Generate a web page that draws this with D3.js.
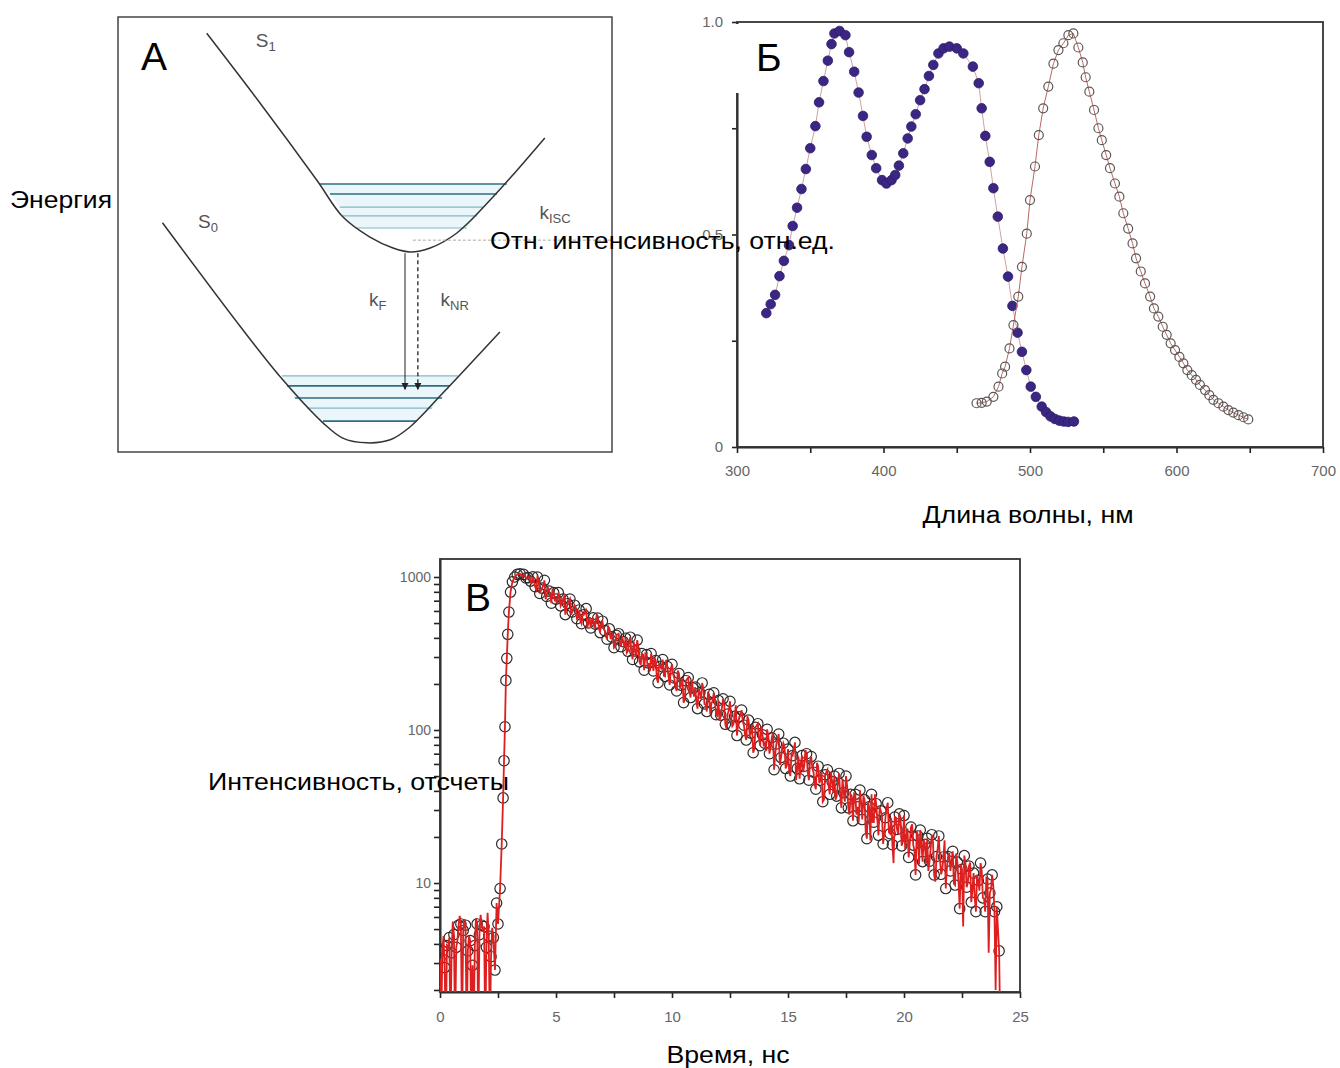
<!DOCTYPE html>
<html>
<head>
<meta charset="utf-8">
<script src="https://cdn.jsdelivr.net/npm/d3@7"></script>
<style>
  body { margin: 0; background: #fff; }
  svg { font-family: Arial, "Liberation Sans", sans-serif; }
  .tick text { fill: #666; }
  .axisLabel { font-size: 23px; fill: #000; }
  .panelLetter { font-size: 39px; fill: #000; }
  .diagLabel { font-size: 19px; fill: #555; }
</style>
</head>
<body>
<div id="chart"></div>
<script>
// ---------- panel А: schematic (diagram units 0..100) ----------
const s1Curve = [[17.96,3.75],[28.74,19.77],[40.22,37.47],[45.55,46.0],[51.0,50.6],[55.67,53.1],[59.1,54.0],[63.2,53.1],[68.6,49.65],[75.9,41.4],[86.4,27.8]]
const s0Curve = [[9.0,47.3],[25.3,71.95],[33.4,83.45],[41.5,93.3],[45.5,96.8],[50.4,97.9],[55.1,97.2],[59.1,94.25],[65.8,86.4],[77.3,72.4]]
// [y, xLeft, xRight]
const s1Levels = [[38.4,40.9,78.7],[40.7,42.9,76.7],[43.7,44.9,73.9],[45.7,45.5,72.7],[48.5,48.4,70.6]]
const s0Levels = [[82.5,33.2,68.8],[84.8,34.2,67.2],[87.6,35.8,65.6],[89.9,38.3,63.6],[92.9,41.5,60.5]]
const s1LevelDark = [true, true, false, false, false]
const s0LevelDark = [false, true, true, false, true]
// transitions: [x, yTop, yBottom]
const kF = [58.1, 54.3, 85.6]
const kNR = [60.7, 54.3, 85.6]
const kISC = [59.7, 100, 51.3]

// ---------- panel Б: spectra ----------
const absWl = [320,323,326,329,332,335.5,338,341,344,347,350,353.5,356,359,362,364.5,366.5,370,374,376.5,380,383,386,388.5,392,395,399,402,405.5,408,410.5,413.5,416.5,419,422,425,428,431,434,437.5,441,445,450,454.5,461,465,467,469.5,472.5,475,478,481.5,485,488,491.5,494.5,497.5,500.5,504,508,511,514,517,520,523,526,530]
const absVal = [0.315,0.336,0.358,0.402,0.438,0.475,0.52,0.563,0.607,0.654,0.703,0.755,0.811,0.861,0.909,0.948,0.973,0.979,0.969,0.929,0.883,0.834,0.779,0.730,0.687,0.656,0.628,0.620,0.628,0.64,0.662,0.691,0.726,0.754,0.783,0.816,0.842,0.873,0.899,0.926,0.938,0.942,0.938,0.926,0.895,0.856,0.797,0.732,0.671,0.609,0.542,0.467,0.401,0.332,0.269,0.224,0.181,0.142,0.118,0.095,0.082,0.072,0.066,0.062,0.060,0.059,0.060]
const emWl = [463.5,467,470.5,475,478.5,481,483,486,488.7,492,494.5,497.8,500,503.4,506,509,512.5,516,519.4,522.8,526.2,529.6,533,536,538,540.5,543.7,546.7,549,552,554.6,558,561,563.7,567,570,572.4,575.6,578.5,582,584.6,587.6,590.6,593.3,596,599,602,604.7,607.4,610.4,613.3,616,619.5,622.4,625.2,628.6,632,635.4,638.8,642.3,645.7,649]
const emVal = [0.103,0.104,0.107,0.118,0.142,0.173,0.189,0.232,0.287,0.354,0.424,0.502,0.581,0.660,0.734,0.797,0.848,0.902,0.934,0.950,0.969,0.973,0.94,0.905,0.87,0.836,0.793,0.75,0.722,0.687,0.656,0.62,0.589,0.55,0.514,0.479,0.444,0.413,0.385,0.354,0.326,0.307,0.283,0.264,0.244,0.228,0.212,0.197,0.181,0.169,0.158,0.146,0.134,0.122,0.111,0.103,0.095,0.087,0.081,0.075,0.07,0.065]
const bTicksX = [300,350,400,450,500,550,600,650,700]
const bTicksY = [0,0.25,0.5,0.75,1]

// ---------- panel В: decay (counts) ----------
const bgCounts = [3.2,3.6,2.8,3.9,4.4,3.5,4.6,3.8,5.3,5.4,4.9,5.3,3.6,4.2,2.9,3.9,5.4,4.6,5.3,5.2,3.8,4.5,3.3] // t = 0.0 .. 2.2
const riseTime = [2.3,2.37,2.44,2.5,2.59,2.66,2.72,2.76,2.8,2.84,2.88,2.92,2.97,3.04,3.12,3.22,3.33,3.45]
const riseCounts = [4.4,2.7,7.4,5.4,9.2,18,36,63,105,211,294,422,590,797,930,1000,1040,1050]
const decayCounts = [ // t = 3.6 .. 24.1
  1040,985,990,940,
  1002,865,1000,781,847,951,747,809,674,790,
  717,790,648,718,568,669,717,591,654,534,
  609,495,567,621,501,464,541,491,539,433,
  514,446,392,458,406,345,416,426,350,378,
  398,327,404,289,328,387,279,316,246,311,
  274,316,243,284,204,261,289,224,260,197,
  269,219,180,234,196,151,210,220,163,188,
  191,138,175,203,148,132,171,150,175,126,
  156,125,160,109,127,154,106,123,92,122,
  135,107.5,86,116,95.5,71,104,110,79,93,
  82,101,70,89,55,81,94,66,82,56,
  75,50,68,83,56,48,68,58,70,47,
  67,53,41,58,47,34,51,55,38,46,
  50,37,52,31,39,50,31,38,25.5,38,
  31.5,40.5,26,35,19.5,31.5,38,25,33,20.5,
  29.6,18,26.7,33.5,21,17.8,27,22.4,28.3,17.5,
  27.6,20.3,14.7,23.2,17.7,11.3,20.3,22.2,13.8,17.9,
  19.6,13.9,20.7,11.3,14.9,20.3,11.4,14.8,9.2,14.9,
  12,16.1,9.7,13.7,6.8,12.3,15.1,9.4,12.9,7.5,
  11.6,6.5,10.4,13.5,8,6.5,10.6,8.6,11.3,6.5,
  7,3.6]
const lineBgCounts = [1,4.5,1,3.8,1,5.6,1,4.2,6.1,1,5.8,1,4.5,1,1,5.9,1,6.2,4.8,1,6.4,1,5.1] // t = 0.05 .. 2.25
const lineDecayCounts = [ // t = 3.55 .. 24.15
  1000,1045,970,1010,915,
  944,832,966,814,879,715,858,760,837,706,
  672,744,675,744,627,693,567,630,630,542,
  516,574,587,467,547,509,472,558,462,498,
  463,408,474,400,432,351,421,372,410,347,
  319,372,328,378,301,349,266,312,315,258,
  242,284,296,215,273,249,226,288,224,251,
  230,190,245,190,217,158,215,180,212,165,
  154,184,159,188,146,174,127,154,156,124,
  115,139,147,102,135,122,109,145,109,124,
  114,92,123,92,108,75,107,88,106,80,
  73,92,77,96,70,87,59,76,78,59,
  54,69,74,47,67,60,53,74,53,63,
  56,44,61,45,53,35,53,43,53,39,
  35,45,38,48,34,43,28,37,38.5,28,
  25,34,37,21.5,33.7,19,25,38,25.8,31.5,
  27.7,21,31,21.4,26.5,13.5,26.7,20.8,26.8,18.6,
  16.6,22.7,18.3,24.2,16.3,21.9,13.2,18.5,19.2,13.4,
  12,16.8,18.5,10.2,16.7,14.4,12.3,19,12.5,15.7,
  13.7,9.9,15.6,10.2,13.2,5.2,13.4,10,13.6,8.9,
  8,11.3,8.9,12,7.9,10.8,3.5,9.1,9.5,2,
  5,1]
const cTicksX = [0,2.5,5,7.5,10,12.5,15,17.5,20,22.5,25]
const cTicksY = [2,3,4,5,6,7,8,9,10,20,30,40,50,60,70,80,90,100,200,300,400,500,600,700,800,900,1000]

function drawFigure(){
    let width = 1340
    let height = 1068
    let svg = d3.select("#chart")
        .append("svg")
            .attr("width", width)
            .attr("height", height)
    svg.append("rect").attr("width", width).attr("height", height).attr("fill", "#fff")

    // ================= panel А =================
    let ax = d3.scaleLinear().domain([0,100]).range([118,612])
    let ay = d3.scaleLinear().domain([0,100]).range([17,452])
    let gA = svg.append("g")

    let defs = svg.append("defs")
    defs.append("marker")
        .attr("id","arrowHead")
        .attr("viewBox","0 0 10 10")
        .attr("refX",9).attr("refY",5)
        .attr("markerWidth",7).attr("markerHeight",8)
        .attr("markerUnits","userSpaceOnUse")
        .attr("orient","auto")
        .append("path").attr("d","M0,0 L10,5 L0,10 z").attr("fill","#222")

    // light fill between levels
    function levelBand(levels){
        let pts = levels.map(d => [ax(d[2]), ay(d[0])])
        let left = levels.map(d => [ax(d[1]), ay(d[0])]).reverse()
        return "M" + pts.concat(left).map(p => p.join(",")).join("L") + "Z"
    }
    gA.append("path").attr("d", levelBand(s1Levels)).attr("fill","#eaf6fa")
    gA.append("path").attr("d", levelBand(s0Levels)).attr("fill","#eaf6fa")

    gA.selectAll(".s1Level")
        .data(s1Levels)
        .enter()
        .append("line")
            .attr("class","s1Level")
            .attr("x1", d => ax(d[1])).attr("x2", d => ax(d[2]))
            .attr("y1", d => ay(d[0])).attr("y2", d => ay(d[0]))
            .attr("stroke", (d,i) => s1LevelDark[i] ? "#2f6f82" : "#86b5c4")
            .attr("stroke-width", (d,i) => s1LevelDark[i] ? 1.6 : 1.2)
    gA.selectAll(".s0Level")
        .data(s0Levels)
        .enter()
        .append("line")
            .attr("class","s0Level")
            .attr("x1", d => ax(d[1])).attr("x2", d => ax(d[2]))
            .attr("y1", d => ay(d[0])).attr("y2", d => ay(d[0]))
            .attr("stroke", (d,i) => s0LevelDark[i] ? "#2f6f82" : "#86b5c4")
            .attr("stroke-width", (d,i) => s0LevelDark[i] ? 1.6 : 1.2)

    let curveLine = d3.line()
        .x(d => ax(d[0]))
        .y(d => ay(d[1]))
        .curve(d3.curveCatmullRom)
    gA.append("path").attr("d", curveLine(s1Curve)).attr("fill","none").attr("stroke","#333").attr("stroke-width",1.5)
    gA.append("path").attr("d", curveLine(s0Curve)).attr("fill","none").attr("stroke","#333").attr("stroke-width",1.5)

    gA.append("line")
        .attr("x1", ax(kISC[0])).attr("x2", ax(kISC[1]))
        .attr("y1", ay(kISC[2])).attr("y2", ay(kISC[2]))
        .attr("stroke","#aaa").attr("stroke-width",1).attr("stroke-dasharray","3,2")
    gA.append("line")
        .attr("x1", ax(kF[0])).attr("x2", ax(kF[0]))
        .attr("y1", ay(kF[1])).attr("y2", ay(kF[2]))
        .attr("stroke","#222").attr("stroke-width",1)
        .attr("marker-end","url(#arrowHead)")
    gA.append("line")
        .attr("x1", ax(kNR[0])).attr("x2", ax(kNR[0]))
        .attr("y1", ay(kNR[1])).attr("y2", ay(kNR[2]))
        .attr("stroke","#222").attr("stroke-width",1.3).attr("stroke-dasharray","4,3")
        .attr("marker-end","url(#arrowHead)")

    gA.append("rect")
        .attr("x", ax(0)).attr("y", ay(0))
        .attr("width", ax(100)-ax(0)).attr("height", ay(100)-ay(0))
        .attr("fill","none").attr("stroke","#444").attr("stroke-width",1.5)

    function subLabel(x, y, main, sub){
        let t = gA.append("text").attr("class","diagLabel").attr("x", x).attr("y", y)
        t.append("tspan").text(main)
        t.append("tspan").attr("font-size","13px").attr("dy", 4).text(sub)
    }
    subLabel(ax(27.9), ay(7.0), "S", "1")
    subLabel(ax(16.2), ay(48.6), "S", "0")
    subLabel(ax(50.8), ay(66.4), "k", "F")
    subLabel(ax(65.3), ay(66.4), "k", "NR")
    subLabel(ax(85.3), ay(46.5), "k", "ISC")

    svg.append("text").attr("class","panelLetter").attr("x",141).attr("y",70).text("А")

    // ================= panel Б =================
    let bx = d3.scaleLinear().domain([300,700]).range([737,1323])
    let by = d3.scaleLinear().domain([0,1]).range([447,22])
    let gB = svg.append("g")

    gB.append("g")
        .attr("transform", `translate(0,${by(0)})`)
        .call(d3.axisBottom(bx).tickValues(bTicksX).tickSize(6).tickSizeOuter(0).tickPadding(12)
            .tickFormat(d => d % 100 == 0 ? d : ""))
        .call(g => g.selectAll(".tick text").attr("font-size","15px"))
    gB.append("g")
        .attr("transform", `translate(${bx(300)},0)`)
        .call(d3.axisLeft(by).tickValues(bTicksY).tickSize(5).tickSizeOuter(0).tickPadding(9)
            .tickFormat(d => d == 0 ? "0" : (d == 0.5 || d == 1) ? d3.format(".1f")(d) : ""))
        .call(g => g.selectAll(".tick text").attr("font-size","15px"))
    gB.selectAll(".domain").attr("stroke","#222").attr("stroke-width",2)
    gB.selectAll(".tick line").attr("stroke","#222").attr("stroke-width",1.6)
    gB.append("rect")
        .attr("x", bx(300)).attr("y", by(1))
        .attr("width", bx(700)-bx(300)).attr("height", by(0)-by(1))
        .attr("fill","none").attr("stroke","#333").attr("stroke-width",1.8)

    let absData = absWl.map((w,i) => [w, absVal[i]])
    let emData = emWl.map((w,i) => [w, emVal[i]])
    let specLine = d3.line().x(d => bx(d[0])).y(d => by(d[1]))

    gB.append("path").attr("d", specLine(absData)).attr("fill","none").attr("stroke","#d4a0a0").attr("stroke-width",1)
    gB.selectAll(".absDot")
        .data(absData)
        .enter()
        .append("circle")
            .attr("class","absDot")
            .attr("cx", d => bx(d[0]))
            .attr("cy", d => by(d[1]))
            .attr("r", 4.8)
            .attr("fill","#3b2783")
            .attr("stroke","#2c1c6a").attr("stroke-width",0.8)

    gB.append("path").attr("d", specLine(emData)).attr("fill","none").attr("stroke","#b46a62").attr("stroke-width",1)
    gB.selectAll(".emDot")
        .data(emData)
        .enter()
        .append("circle")
            .attr("class","emDot")
            .attr("cx", d => bx(d[0]))
            .attr("cy", d => by(d[1]))
            .attr("r", 4.5)
            .attr("fill","none")
            .attr("stroke","#5e5656").attr("stroke-width",1.2)

    // white patch behind the letter
    gB.append("rect").attr("x",734).attr("y",24).attr("width",78).attr("height",69).attr("fill","#fff")
    svg.append("text").attr("class","panelLetter").attr("x",756).attr("y",71).text("Б")

    // ================= panel В =================
    let cx = d3.scaleLinear().domain([0,25]).range([440,1020])
    let cy = d3.scaleLog().domain([1.94,1311]).range([992,559])
    let gC = svg.append("g")

    gC.append("g")
        .attr("transform", `translate(0,${cy.range()[0]})`)
        .call(d3.axisBottom(cx).tickValues(cTicksX).tickSize(6).tickSizeOuter(0).tickPadding(13)
            .tickFormat(d => d % 5 == 0 ? d : ""))
        .call(g => g.selectAll(".tick text").attr("font-size","15px"))
    gC.append("g")
        .attr("transform", `translate(${cx(0)},0)`)
        .call(d3.axisLeft(cy).tickValues(cTicksY).tickSize(6).tickSizeOuter(0).tickPadding(3)
            .tickFormat(d => (d == 10 || d == 100 || d == 1000) ? d : ""))
        .call(g => g.selectAll(".tick text").attr("font-size","14px"))
    gC.selectAll(".domain").attr("stroke","#222").attr("stroke-width",2)
    gC.selectAll(".tick line").attr("stroke","#222").attr("stroke-width",1.6)
    gC.append("rect")
        .attr("x", cx(0)).attr("y", cy.range()[1])
        .attr("width", cx(25)-cx(0)).attr("height", cy.range()[0]-cy.range()[1])
        .attr("fill","none").attr("stroke","#333").attr("stroke-width",1.8)

    defs.append("clipPath").attr("id","clipC")
        .append("rect")
        .attr("x", cx(0)).attr("y", cy.range()[1])
        .attr("width", cx(25)-cx(0)).attr("height", cy.range()[0]-cy.range()[1])

    let bgData = bgCounts.map((v,i) => [i/10, v])
    let riseData = riseTime.map((t,i) => [t, riseCounts[i]])
    let decayData = decayCounts.map((v,i) => [3.6 + i/10, v])
    let circleData = bgData.concat(riseData).concat(decayData)
    // red trace runs through the open circles and the in-between channels
    let redData = lineBgCounts.map((v,i) => [0.05 + i/10, v])
        .concat(lineDecayCounts.map((v,i) => [3.55 + i/10, v]))
        .concat(circleData)
        .sort((a,b) => a[0] - b[0])

    let plotC = gC.append("g").attr("clip-path","url(#clipC)")
    plotC.selectAll(".countDot")
        .data(circleData)
        .enter()
        .append("circle")
            .attr("class","countDot")
            .attr("cx", d => cx(d[0]))
            .attr("cy", d => cy(d[1]))
            .attr("r", 5.2)
            .attr("fill","none")
            .attr("stroke","#2e2a2a").attr("stroke-width",1.2)
    let countLine = d3.line().x(d => cx(d[0])).y(d => cy(d[1]))
    plotC.append("path")
        .attr("d", countLine(redData))
        .attr("fill","none")
        .attr("stroke","#dd1f1f").attr("stroke-width",1.8)

    svg.append("text").attr("class","panelLetter").attr("x",465).attr("y",611).text("В")

    // ================= axis titles (on top) =================
    function axisTitle(x, y, len, txt, anchor){
        svg.append("text").attr("class","axisLabel")
            .attr("x", x).attr("y", y)
            .attr("text-anchor", anchor || "start")
            .attr("textLength", len).attr("lengthAdjust","spacingAndGlyphs")
            .text(txt)
    }
    axisTitle(10, 208, 102, "Энергия")
    axisTitle(490, 249, 345, "Отн. интенсивность, отн.ед.")
    axisTitle(1028, 523, 211, "Длина волны, нм", "middle")
    axisTitle(208, 790, 301, "Интенсивность, отсчеты")
    axisTitle(728, 1063, 123, "Время, нс", "middle")
}
drawFigure()
</script>
</body>
</html>
